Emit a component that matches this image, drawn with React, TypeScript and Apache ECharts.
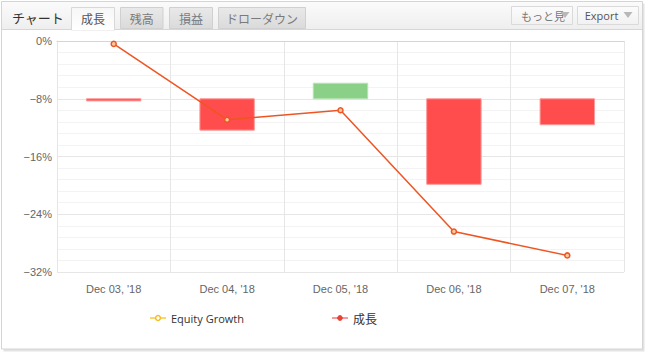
import React, { useEffect, useRef } from "react";
import * as echarts from "echarts";

const categories = ["Dec 03, '18", "Dec 04, '18", "Dec 05, '18", "Dec 06, '18", "Dec 07, '18"];
const barLow = [-8.3, -12.35, -8.0, -19.85, -11.6];
const barHigh = [-8.0, -8.0, -5.85, -8.0, -8.0];
const barUp = [false, false, true, false, false];
const growthLine = [-0.4, -10.9, -9.6, -26.4, -29.7];
const equityGrowth: (number | null)[] = [null, null, null, null, null];
const yTicks = { min: -32, max: 0, interval: 8 };
const tabs = ["成長", "残高", "損益", "ドローダウン"];

export default function App() {
  const ref = useRef<HTMLDivElement>(null);
  useEffect(() => {
    document.body.style.margin = "0";
    const chart = echarts.init(ref.current!, undefined, { renderer: "svg" });

    const tabPos = [
      { x: 71.5, w: 43 },
      { x: 120.5, w: 42.5 },
      { x: 169.5, w: 43 },
      { x: 218.5, w: 87 },
    ];
    const gradient = (a: string, b: string) =>
      new echarts.graphic.LinearGradient(0, 0, 0, 1, [
        { offset: 0, color: a },
        { offset: 1, color: b },
      ]);

    const graphics: any[] = [
      { type: "rect", z: -10, shape: { x: 3.5, y: 3.5, width: 641, height: 348 }, style: { fill: "#e3e3e3" }, silent: true },
      { type: "rect", z: -9, shape: { x: 1.5, y: 1.5, width: 641, height: 347.5 }, style: { fill: "#ffffff", stroke: "#d4d4d4", lineWidth: 1 }, silent: true },
      { type: "rect", z: -8, shape: { x: 2, y: 2, width: 640, height: 27.5 }, style: { fill: gradient("#fbfbfb", "#eeeeee") }, silent: true },
      { type: "line", z: -7, shape: { x1: 2, y1: 29.5, x2: 642, y2: 29.5 }, style: { stroke: "#d6d6d6", lineWidth: 1 }, silent: true },
      { type: "text", z: 5, style: { text: "チャート", x: 12, y: 17, fontSize: 13, fill: "#333", fontFamily: "Noto Sans CJK JP", verticalAlign: "middle" }, silent: true },
    ];
    tabs.forEach((t, i) => {
      const p = tabPos[i];
      const active = i === 0;
      graphics.push({
        type: "rect",
        z: -6,
        shape: { x: p.x, y: 7.5, width: p.w, height: active ? 22.5 : 21 },
        style: {
          fill: active ? gradient("#f6f6f6", "#ffffff") : gradient("#e9e9e9", "#dadada"),
          stroke: active ? "#d8d8d8" : "#d0d0d0",
          lineWidth: 1,
        },
        silent: true,
      });
      if (active) {
        graphics.push({ type: "line", z: -5, shape: { x1: p.x + 0.5, y1: 29.5, x2: p.x + p.w - 0.5, y2: 29.5 }, style: { stroke: "#ffffff", lineWidth: 1.5 }, silent: true });
      }
      graphics.push({
        type: "text",
        z: 5,
        style: {
          text: t,
          x: p.x + p.w / 2,
          y: 18.5,
          fontSize: 12,
          fill: active ? "#555" : "#7a7a7a",
          fontFamily: "Noto Sans CJK JP",
          align: "center",
          verticalAlign: "middle",
        },
        silent: true,
      });
    });
    const buttons = [
      { x: 511.5, w: 61, text: "もっと見", tx: 543, tri: 565, ff: "Noto Sans CJK JP", fill: "#777" },
      { x: 577.5, w: 61, text: "Export", tx: 601.5, tri: 628, ff: "Open Sans", fill: "#555" },
    ];
    buttons.forEach((b) => {
      graphics.push({ type: "rect", z: -6, shape: { x: b.x, y: 6.5, width: b.w, height: 18 }, style: { fill: gradient("#fcfcfc", "#f1f1f1"), stroke: "#dadada", lineWidth: 1 }, silent: true });
      graphics.push({ type: "text", z: 5, style: { text: b.text, x: b.tx, y: 15.5, fontSize: 11, fill: b.fill, fontFamily: b.ff, align: "center", verticalAlign: "middle" }, silent: true });
      graphics.push({ type: "polygon", z: 6, shape: { points: [[b.tri - 4.5, 12], [b.tri + 4.5, 12], [b.tri, 18]] }, style: { fill: "#b8b8b8" }, silent: true });
    });

    const barData = categories.map((_, i) => [i, barLow[i], barHigh[i], barUp[i] ? 1 : 0]);

    chart.setOption({
      animation: false,
      graphic: graphics,
      grid: { left: 57, right: 24, top: 41, bottom: 82, containLabel: false },
      legend: {
        left: 144,
        top: 307,
        itemWidth: 16,
        itemHeight: 6,
        itemGap: 87,
        textStyle: { fontSize: 11, color: "#333", fontFamily: "Open Sans" },
        data: [
          { name: "Equity Growth", itemStyle: { color: "#ffffff", borderColor: "#f5bd1f", borderWidth: 1.5 }, lineStyle: { color: "#fcd66b", width: 2 } },
          { name: "成長", itemStyle: { color: "#e94235", borderColor: "#e94235", borderWidth: 1 }, lineStyle: { color: "#f59a9a", width: 2 }, textStyle: { fontFamily: "Noto Sans CJK JP", fontSize: 12 } },
        ],
      },
      xAxis: {
        type: "category",
        data: categories,
        boundaryGap: true,
        axisLine: { show: true, lineStyle: { color: "#ccd6eb", width: 1 } },
        axisTick: { show: false },
        axisLabel: { color: "#666", fontSize: 11, fontFamily: "Liberation Sans", margin: 11 },
        splitLine: { show: true, interval: 0, lineStyle: { color: "#e6e6e6", width: 1 } },
      },
      yAxis: {
        type: "value",
        min: yTicks.min,
        max: yTicks.max,
        interval: yTicks.interval,
        axisLine: { show: true, lineStyle: { color: "#e6e6e6" } },
        axisTick: { show: false },
        axisLabel: {
          color: "#666",
          fontSize: 11,
          fontFamily: "Liberation Sans",
          margin: 5,
          formatter: (v: number) => (v < 0 ? "−" + Math.abs(v) : String(v)) + "%",
        },
        splitLine: { show: true, lineStyle: { color: "#e6e6e6", width: 1 } },
        minorTick: { show: false, splitNumber: 5 },
        minorSplitLine: { show: true, lineStyle: { color: "#f3f3f3", width: 1 } },
      },
      series: [
        {
          name: "Equity Growth",
          type: "line",
          data: equityGrowth,
          color: "#f5bd1f",
          symbol: "circle",
          symbolSize: 5,
        },
        {
          name: "bars",
          type: "custom",
          data: barData,
          encode: { x: 0, y: [1, 2] },
          z: 2,
          renderItem: (params: any, api: any) => {
            const x = api.value(0);
            const lo = api.coord([x, api.value(1)]);
            const hi = api.coord([x, api.value(2)]);
            const w = api.size([1, 0])[0] * 0.48;
            const up = api.value(3) === 1;
            return {
              type: "rect",
              shape: { x: lo[0] - w / 2, y: hi[1], width: w, height: Math.max(lo[1] - hi[1], 1) },
              style: {
                fill: up ? "#8bd087" : "#ff4d4d",
                stroke: up ? "#b5e3b2" : "#ff9a9a",
                lineWidth: 1,
              },
            };
          },
        },
        {
          name: "成長",
          type: "line",
          data: growthLine,
          z: 5,
          color: "#ee5522",
          symbol: "circle",
          symbolSize: 5,
          showAllSymbol: true,
          lineStyle: { color: "#ee5522", width: 1.5 },
          itemStyle: { color: "#f9c9a0", borderColor: "#ee5522", borderWidth: 1.5 },
        },
      ],
    });
    return () => chart.dispose();
  }, []);
  return <div ref={ref} style={{ position: "absolute", left: 0, top: 0, width: 648, height: 354 }} />;
}
